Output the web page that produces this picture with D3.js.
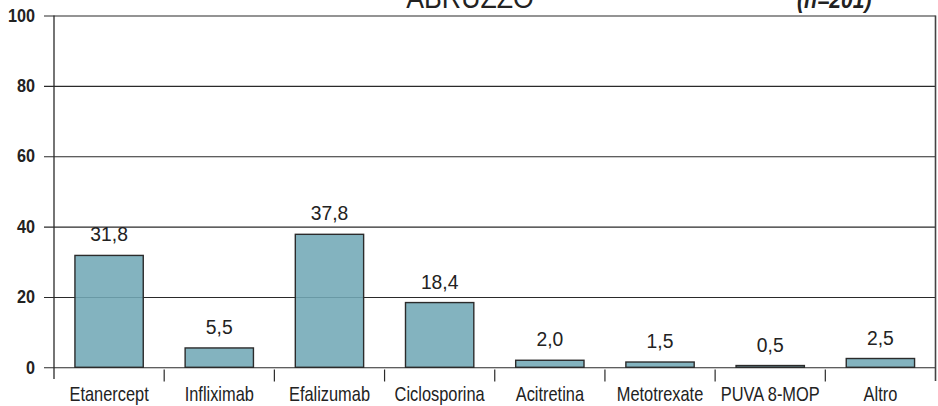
<!DOCTYPE html>
<html>
<head>
<meta charset="utf-8">
<script src="https://cdn.jsdelivr.net/npm/d3@7"></script>
<style>
  html, body { margin: 0; padding: 0; background: #fff; }
  svg { display: block; }
</style>
</head>
<body>
<svg id="chart" width="938" height="406"></svg>
<script>
// Treatment share, Abruzzo region (n=201)
const categories = ["Etanercept", "Infliximab", "Efalizumab", "Ciclosporina", "Acitretina", "Metotrexate", "PUVA 8-MOP", "Altro"];
const values = [31.8, 5.5, 37.8, 18.4, 2.0, 1.5, 0.5, 2.5];
const yTicks = [0, 20, 40, 60, 80, 100];
const title = "ABRUZZO";
const sampleNote = "(n=201)";

const svg = d3.select("#chart");
const plotLeft = 54, plotRight = 935.5, plotTop = 15.5, plotBottom = 367.3;
const sans = "'Liberation Sans', Arial, sans-serif";
const condense = 0.82; // horizontal squeeze for a condensed look

const x = d3.scaleBand().domain(categories).range([plotLeft, plotRight]).paddingInner(0.38).paddingOuter(0.19);
const y = d3.scaleLinear().domain([0, 100]).range([plotBottom, plotTop]);

// Gridlines plus left tick labels, drawn from the right edge leftwards
const yAxis = d3.axisLeft(y).tickValues(yTicks).tickSize(plotRight - 44).tickPadding(9);
const gy = svg.append("g").attr("transform", `translate(${plotRight},0)`).call(yAxis);
gy.select(".domain").remove();
gy.selectAll(".tick line").attr("stroke", "#2a2a2a").attr("stroke-width", 1.1);
gy.selectAll(".tick text")
  .attr("font-family", sans).attr("font-weight", "bold").attr("font-size", 18).attr("fill", "#222")
  .attr("transform", function () {
    const tx = +d3.select(this).attr("x");
    return `translate(${tx},0) scale(0.9,1) translate(${-tx},0)`;
  });

// Bars
svg.append("g").selectAll("rect").data(values).join("rect")
  .attr("x", (d, i) => x(categories[i]))
  .attr("y", d => y(d))
  .attr("width", x.bandwidth())
  .attr("height", d => y(0) - y(d))
  .attr("fill", "#72a9b6")
  .attr("fill-opacity", 0.88)
  .attr("stroke", "#2b2b2b")
  .attr("stroke-width", 1.4);

// Value labels
svg.append("g").selectAll("text").data(values).join("text")
  .attr("transform", (d, i) => `translate(${x(categories[i]) + x.bandwidth() / 2},${y(d) - 14}) scale(0.92,1)`)
  .attr("text-anchor", "middle")
  .attr("font-family", sans).attr("font-size", 21).attr("fill", "#222")
  .text(d => d.toFixed(1).replace(".", ","));

// Frame: left axis line and right border
svg.append("line").attr("x1", plotLeft).attr("x2", plotLeft).attr("y1", plotTop).attr("y2", 379)
  .attr("stroke", "#2a2a2a").attr("stroke-width", 1.3);
svg.append("line").attr("x1", plotRight).attr("x2", plotRight).attr("y1", plotTop).attr("y2", 381)
  .attr("stroke", "#444").attr("stroke-width", 1.6);

// Category boundary ticks
const step = x.step();
svg.append("g").selectAll("line").data(d3.range(1, categories.length)).join("line")
  .attr("x1", i => plotLeft + i * step).attr("x2", i => plotLeft + i * step)
  .attr("y1", 369.5).attr("y2", 381.5)
  .attr("stroke", "#2a2a2a").attr("stroke-width", 1.2);

// Category labels
svg.append("g").selectAll("text").data(categories).join("text")
  .attr("transform", d => `translate(${x(d) + x.bandwidth() / 2},401) scale(${condense},1)`)
  .attr("text-anchor", "middle")
  .attr("font-family", sans).attr("font-size", 20).attr("fill", "#222")
  .text(d => d);

// Title and sample size
svg.append("text").attr("transform", "translate(470,7.5) scale(0.92,1)").attr("text-anchor", "middle")
  .attr("font-family", sans).attr("font-size", 29).attr("fill", "#222").text(title);
svg.append("text").attr("transform", "translate(797,8) scale(0.88,1)").attr("text-anchor", "start")
  .attr("font-family", sans).attr("font-size", 24).attr("font-weight", "bold").attr("font-style", "italic")
  .attr("fill", "#222").text(sampleNote);
</script>
</body>
</html>
